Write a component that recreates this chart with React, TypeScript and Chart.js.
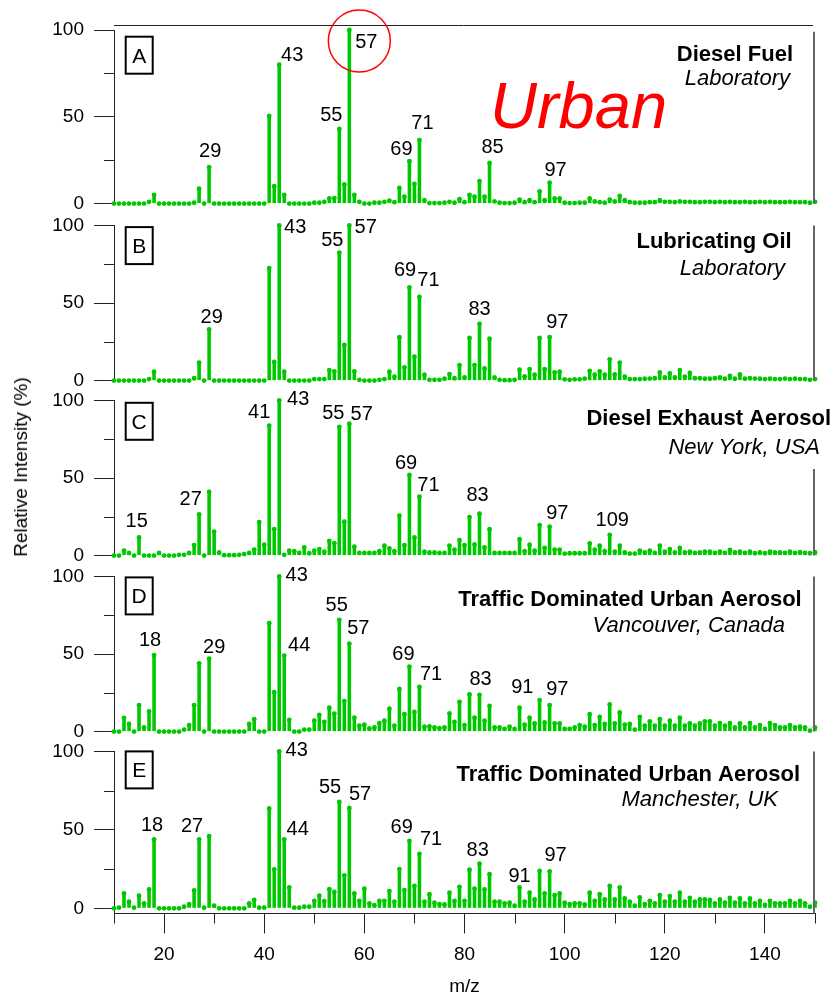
import React, { useEffect, useRef } from 'react';
import { Chart, registerables } from 'chart.js';

Chart.register(...registerables);

const FONT = '"Liberation Sans", Arial, Helvetica, sans-serif';
const GREEN = '#00C800';
const AXIS = '#222222';

// m/z categories (integer masses 10 .. 150)
const MZ: number[] = Array.from({ length: 141 }, (_, i) => 10 + i);
const X_TICKS = [10, 20, 30, 40, 50, 60, 70, 80, 90, 100, 110, 120, 130, 140, 150];
const Y_TICKS = [0, 50, 100];
const Y_MINOR = [25, 75];

// A: Diesel Fuel (Laboratory)
const DIESEL_FUEL = [
  0, 0, 0, 0, 0, 0, 0, 1, 5, 0,
  0, 0, 0, 0, 0, 0, 0.5, 8.6, 0, 21,
  0, 0, 0, 0, 0, 0, 0, 0, 0, 0,
  0, 50.5, 10, 80, 5, 0, 0, 0, 0, 0,
  0.5, 0.5, 1, 3, 3.2, 43, 11, 100, 5, 1,
  0, 0, 0.5, 0.5, 1, 1.7, 0.8, 9, 4, 24.4,
  11.4, 36.6, 2, 0.3, 0.3, 0.3, 0.5, 1, 0.5, 2.5,
  0.8, 5, 4, 13, 4, 23.4, 1.3, 0.5, 0.3, 0.3,
  0.5, 2.3, 0.8, 2, 0.8, 7, 2, 12, 3, 3,
  0.5, 0.3, 0.3, 0.5, 0.5, 3, 1.2, 0.8, 0.5, 2.3,
  1.2, 4.4, 2, 0.8, 0.5, 0.5, 0.5, 0.8, 0.8, 2,
  1, 1, 0.8, 1.2, 1, 1, 0.8, 0.8, 1, 1,
  0.8, 1, 0.8, 1, 0.8, 0.8, 1, 0.8, 0.8, 1,
  0.8, 1, 0.8, 0.8, 0.8, 1, 0.8, 0.8, 0.8, 0.5,
  1,
];

// B: Lubricating Oil (Laboratory)
const LUBRICATING_OIL = [
  0, 0, 0, 0, 0, 0, 0, 1, 5.7, 0,
  0, 0, 0, 0, 0, 0, 1.5, 11.6, 0, 33,
  0, 0, 0, 0, 0, 0, 0, 0, 0, 0,
  0, 72.5, 12, 100, 5.7, 0, 0, 0, 0, 0,
  1, 1, 1, 6.8, 6, 82.5, 23, 100, 6, 0.5,
  0, 0, 0, 0.5, 1, 5.7, 2.5, 28, 8.5, 60,
  15.4, 54, 3.8, 0.5, 0.5, 0.5, 1.2, 4.2, 1.5, 10,
  2, 27.5, 10, 36.6, 7.8, 27, 2, 0.5, 0.3, 0.3,
  0.5, 7, 2.7, 7.4, 3.8, 27.5, 7.4, 28, 5.3, 5.7,
  0.8, 0.5, 0.8, 0.8, 1.3, 6.3, 3.8, 6, 3.8, 13.7,
  4, 11.6, 2.5, 1, 1, 1, 1.2, 1.3, 1.5, 5.3,
  2, 4.6, 2, 6.8, 2.5, 4.9, 1.5, 1.5, 1.2, 1.2,
  1.5, 2, 1.2, 3, 1.2, 4, 1.2, 1.5, 1.3, 1.2,
  1, 1.2, 1, 1, 1.3, 1, 1.2, 1, 1, 0.5,
  1,
];

// C: Diesel Exhaust Aerosol (New York, USA)
const DIESEL_EXHAUST = [
  0, 0, 3.2, 1.7, 0, 11.7, 0, 0, 0, 1.7,
  0, 0, 0, 0.5, 0.5, 1.7, 6.8, 26.5, 0, 41,
  15.5, 2, 0.3, 0.3, 0.3, 0.5, 1, 1.7, 3.8, 21.6,
  7, 83.7, 17, 100, 0.5, 3.2, 2.8, 1.7, 5.3, 1.5,
  3.2, 4.2, 2.5, 9.5, 8, 83, 21.8, 85, 5.7, 1.7,
  1.7, 1.7, 1.7, 2.8, 6.4, 4.7, 2.8, 25.8, 6.8, 52,
  11.7, 38, 2.5, 2, 2, 1.7, 1.7, 6.4, 3.8, 10,
  6.8, 24.8, 7.2, 27, 5.3, 17, 1.7, 1.7, 1.7, 1.7,
  1.7, 10.6, 2.8, 7, 3.2, 19.7, 4.9, 18.6, 3.8, 3.8,
  1.3, 1.5, 1.5, 1.5, 1.5, 7.8, 3.8, 6.4, 2.8, 13.3,
  2.5, 6.4, 2, 1.3, 1.3, 3.2, 2, 3.2, 1.7, 6.4,
  2.5, 4.2, 2, 4.9, 2, 2.5, 1.7, 2, 2.5, 2.5,
  1.7, 2.5, 1.7, 3.6, 2, 2.5, 1.7, 2.5, 1.5, 2,
  1.5, 2.5, 2, 2, 1.7, 2.5, 1.7, 2.2, 1.7, 1.5,
  2.2,
];

// D: Traffic Dominated Urban Aerosol (Vancouver, Canada)
const VANCOUVER = [
  0, 0, 8.9, 4.9, 0, 17, 2.7, 13, 49.3, 0,
  0, 0, 0, 0, 1.3, 4.2, 17, 44, 0, 47,
  0, 0, 0, 0, 0, 0, 0, 4.9, 8, 0,
  0, 69.8, 25.4, 100, 49, 7.6, 0, 0, 1.3, 1.3,
  7, 10.8, 6.3, 15.4, 11.6, 72, 19.7, 56.7, 9, 3.8,
  4.4, 2, 2.7, 5.5, 7, 14.8, 3.8, 27.5, 11.2, 41.9,
  12.7, 28.8, 3.2, 3.4, 2.7, 2.3, 2.7, 11.8, 6.3, 19.2,
  4.2, 24, 9, 23.7, 7, 16.5, 2.7, 2.7, 1.7, 3.2,
  1.7, 15.4, 4.4, 9, 5.3, 20.3, 5.9, 17, 5.3, 5.3,
  1.7, 1.7, 2.7, 4.2, 3.2, 11.2, 4.2, 9.5, 4.9, 17.5,
  5.3, 12.3, 4.4, 4.9, 1.3, 9.5, 3.8, 6.6, 3.8, 8,
  3.8, 7, 3.8, 9, 3.8, 5.3, 3.8, 5.3, 6.6, 6.6,
  3.8, 5.5, 3.8, 5.5, 2.7, 5.3, 2.7, 5.5, 2.7, 4.2,
  1.7, 5.5, 4.2, 2.7, 2.7, 4.2, 2.7, 3.2, 2.7, 0.6,
  2.7,
];

// E: Traffic Dominated Urban Aerosol (Manchester, UK)
const MANCHESTER = [
  0, 0.4, 9.5, 4.2, 0.4, 8, 3.2, 12, 44, 0,
  0, 0, 0, 0, 1, 2.7, 11.4, 44, 0.4, 46,
  1.7, 0, 0, 0, 0, 0, 0, 3.2, 5.3, 0.4,
  0.4, 63.6, 24.8, 100, 44, 13.3, 0.4, 0.4, 1, 1,
  4.8, 8, 4.6, 12.2, 10.5, 67.8, 21, 64, 9.5, 4.8,
  12.6, 3.2, 2, 4.8, 4.8, 11, 4.2, 25, 11.6, 43,
  14.3, 34.7, 4.2, 9, 3.6, 2.7, 2.5, 10, 4.8, 13.7,
  4.8, 24.6, 12.6, 28.4, 12, 21.7, 4.2, 4.2, 3.2, 3.6,
  1.7, 13.3, 4.2, 10, 5.7, 23.8, 9.5, 23.6, 8.4, 9.5,
  3.6, 2.7, 3.2, 3.2, 2.5, 10, 4.8, 9, 5.7, 14.3,
  5.7, 13.3, 6.3, 4.2, 1.7, 7, 2.7, 4.8, 3.2, 8.4,
  4.2, 7.8, 4.2, 10, 4.2, 6.7, 4.2, 5.7, 5.7, 5.3,
  3.2, 5.7, 3.6, 6.7, 3.6, 6.3, 3.2, 6.3, 3.2, 4.8,
  2.2, 4.8, 3.2, 3.2, 3.2, 4.8, 3.2, 4.8, 3.2, 1,
  3.6,
];

// labelled peaks (m/z)
const PEAKS_A = [29, 43, 55, 57, 69, 71, 85, 97];
const PEAKS_B = [29, 43, 55, 57, 69, 71, 83, 97];
const PEAKS_C = [15, 27, 41, 43, 55, 57, 69, 71, 83, 97, 109];
const PEAKS_D = [18, 29, 43, 44, 55, 57, 69, 71, 83, 91, 97];
const PEAKS_E = [18, 27, 43, 44, 55, 57, 69, 71, 83, 91, 97];

// label offsets in px from the bar top (dx of text centre, dy of baseline)
const OFFS_A: [number, number][] = [[1, -10], [13, -4], [-8, -8], [17, 18], [-8, -6], [3, -11], [3, -10], [6, -7]];
const OFFS_B: [number, number][] = [[2.6, -6], [16, 7.7], [-7, -6.6], [16.4, 7.7], [-4.4, -11], [9, -10.5], [0, -8.5], [7.7, -9]];
const OFFS_C: [number, number][] = [[-2.4, -10.6], [-8.4, -9.5], [-10, -7.5], [19, 4.7], [-6, -7.8], [12.4, -4], [-3.4, -6], [9, -6], [-2, -12.5], [7.7, -7.4], [2.6, -9]];
const OFFS_D: [number, number][] = [[-4, -9.3], [5, -6], [17.5, 5], [15, -4.4], [-2.6, -8.5], [9, -10], [-6, -6.6], [11.6, -7.3], [1, -10], [2.7, -14.4], [7.7, -10]];
const OFFS_E: [number, number][] = [[-2, -8], [-7, -7], [17.5, 5], [13.5, -4.3], [-9.3, -8.7], [10.7, -8], [-7.7, -8], [11.6, -9], [-1.8, -7.6], [0, -5.5], [6, -10]];

type PanelCfg = {
  letter: string;
  title: string;
  subtitle: string;
  values: number[];
  peaks: number[];
  offs: [number, number][];
  canvasTop: number;
  canvasHeight: number;
  padTop: number;
  padBottom: number;
  yMin: number;
  isBottom: boolean;
  boxDy: number;
  titleRight: number;
  titleDy: number;
  subRight: number;
  subDy: number;
  rightLineDy: number;
  urban?: boolean;
};

const PANELS: PanelCfg[] = [
  {
    letter: 'A', title: 'Diesel Fuel', subtitle: 'Laboratory', values: DIESEL_FUEL, peaks: PEAKS_A, offs: OFFS_A,
    canvasTop: 0, canvasHeight: 225, padTop: 30, padBottom: 20, yMin: 0, isBottom: false,
    boxDy: 6.7, titleRight: 793, titleDy: 30.7, subRight: 790, subDy: 55, rightLineDy: 1.7, urban: true,
  },
  {
    letter: 'B', title: 'Lubricating Oil', subtitle: 'Laboratory', values: LUBRICATING_OIL, peaks: PEAKS_B, offs: OFFS_B,
    canvasTop: 204, canvasHeight: 198, padTop: 20, padBottom: 20.3, yMin: 0, isBottom: false,
    boxDy: 1.7, titleRight: 791.7, titleDy: 22.7, subRight: 785, subDy: 49.3, rightLineDy: 0,
  },
  {
    letter: 'C', title: 'Diesel Exhaust Aerosol', subtitle: 'New York, USA', values: DIESEL_EXHAUST, peaks: PEAKS_C, offs: OFFS_C,
    canvasTop: 379, canvasHeight: 198, padTop: 20.3, padBottom: 20.3, yMin: 0, isBottom: false,
    boxDy: 2.4, titleRight: 831, titleDy: 24.7, subRight: 820, subDy: 54, rightLineDy: 68.7,
  },
  {
    letter: 'D', title: 'Traffic Dominated Urban Aerosol', subtitle: 'Vancouver, Canada', values: VANCOUVER, peaks: PEAKS_D, offs: OFFS_D,
    canvasTop: 555, canvasHeight: 198, padTop: 20, padBottom: 20.3, yMin: 0, isBottom: false,
    boxDy: 1, titleRight: 801.7, titleDy: 30, subRight: 785, subDy: 55.7, rightLineDy: 0,
  },
  {
    letter: 'E', title: 'Traffic Dominated Urban Aerosol', subtitle: 'Manchester, UK', values: MANCHESTER, peaks: PEAKS_E, offs: OFFS_E,
    canvasTop: 730, canvasHeight: 266, padTop: 20, padBottom: 0, yMin: -3.3, isBottom: true,
    boxDy: 0, titleRight: 800, titleDy: 30, subRight: 778, subDy: 55, rightLineDy: 0,
  },
];

function decorPlugin(p: PanelCfg) {
  return {
    id: 'decor' + p.letter,
    afterDraw(chart: any) {
      const { ctx, chartArea: ca, scales } = chart;
      const xs = scales.x;
      const ys = scales.y;
      ctx.save();
      // minor ticks
      ctx.strokeStyle = AXIS;
      ctx.lineWidth = 1;
      ctx.beginPath();
      for (const v of Y_MINOR) {
        const y = Math.round(ys.getPixelForValue(v)) + 0.5;
        ctx.moveTo(ca.left - 10, y);
        ctx.lineTo(ca.left, y);
      }
      if (p.isBottom) {
        for (const v of X_TICKS) {
          if (v % 20 !== 0) {
            const x = Math.round(xs.getPixelForValue(v)) + 0.5;
            ctx.moveTo(x, ca.bottom);
            ctx.lineTo(x, ca.bottom + 10);
          }
        }
      }
      ctx.stroke();
      // right frame line
      ctx.strokeStyle = '#666666';
      ctx.lineWidth = 2;
      ctx.beginPath();
      ctx.moveTo(ca.right - 1, ca.top + p.rightLineDy);
      ctx.lineTo(ca.right - 1, ca.bottom);
      ctx.stroke();
      // top line (panel A)
      if (p.urban) {
        ctx.strokeStyle = AXIS;
        ctx.lineWidth = 1;
        ctx.beginPath();
        ctx.moveTo(ca.left, ca.top - 4.5);
        ctx.lineTo(ca.right - 2, ca.top - 4.5);
        ctx.stroke();
      }
      // panel letter box
      const bx = ca.left + 11.7;
      const by = ca.top + p.boxDy;
      ctx.strokeStyle = '#000';
      ctx.lineWidth = 2;
      ctx.strokeRect(bx, by, 27, 37);
      ctx.fillStyle = '#000';
      ctx.font = `21px ${FONT}`;
      ctx.textAlign = 'center';
      ctx.textBaseline = 'alphabetic';
      ctx.fillText(p.letter, bx + 13.5, by + 26);
      // titles
      ctx.textAlign = 'right';
      ctx.font = `bold 22px ${FONT}`;
      ctx.fillText(p.title, p.titleRight, ca.top + p.titleDy);
      ctx.font = `italic 22px ${FONT}`;
      ctx.fillText(p.subtitle, p.subRight, ca.top + p.subDy);
      // peak labels
      ctx.textAlign = 'center';
      ctx.font = `20px ${FONT}`;
      p.peaks.forEach((mz, i) => {
        const v = p.values[mz - 10];
        const [dx, dy] = p.offs[i];
        ctx.fillText(String(mz), xs.getPixelForValue(mz) + dx, ys.getPixelForValue(v) + dy);
      });
      // red annotations
      if (p.urban) {
        ctx.fillStyle = '#FF0000';
        ctx.font = `italic 65px ${FONT}`;
        ctx.textAlign = 'left';
        ctx.fillText('Urban', 490, ca.top + 98);
        ctx.strokeStyle = '#FF0000';
        ctx.lineWidth = 1.5;
        ctx.beginPath();
        ctx.arc(xs.getPixelForValue(57) + 10, ys.getPixelForValue(100) + 11, 31, 0, Math.PI * 2);
        ctx.stroke();
      }
      ctx.restore();
    },
  };
}

function makeChart(canvas: HTMLCanvasElement, p: PanelCfg) {
  const pts = p.values.map((v, i) => ({ x: MZ[i], y: v }));
  const tickFont = { family: FONT, size: 19 };
  return new Chart(canvas, {
    type: 'bar',
    data: {
      datasets: [
        {
          type: 'bar',
          data: pts as any,
          backgroundColor: GREEN,
          borderWidth: 0,
          barThickness: 3.6,
          inflateAmount: 0,
          clip: false as any,
          order: 2,
        } as any,
        {
          type: 'line',
          data: pts as any,
          showLine: false,
          pointRadius: 2.4,
          pointHoverRadius: 0,
          pointBackgroundColor: GREEN,
          pointBorderWidth: 0,
          borderWidth: 0,
          clip: false as any,
          order: 1,
        } as any,
      ],
    },
    options: {
      animation: false,
      responsive: false,
      devicePixelRatio: 1,
      events: [],
      layout: { padding: { top: p.padTop, bottom: p.padBottom, left: 0, right: 21 } },
      plugins: { legend: { display: false }, tooltip: { enabled: false }, title: { display: false } },
      scales: {
        x: {
          type: 'linear',
          min: 10,
          max: 150,
          offset: false,
          display: p.isBottom,
          afterBuildTicks: (s: any) => { s.ticks = X_TICKS.map((v) => ({ value: v })); },
          afterFit: (s: any) => { if (p.isBottom) s.height = 82.5; },
          ticks: {
            autoSkip: false,
            maxRotation: 0,
            minRotation: 0,
            font: tickFont,
            color: '#000',
            padding: 10,
            callback: (v: any) => (Number(v) % 20 === 0 ? String(v) : ''),
          },
          grid: {
            display: true,
            drawOnChartArea: false,
            drawTicks: true,
            tickLength: 20,
            offset: false,
            tickColor: (c: any) => (c.tick && c.tick.value % 20 === 0 ? AXIS : 'rgba(0,0,0,0)'),
          },
          border: { display: true, color: AXIS, width: 1 },
          title: { display: p.isBottom, text: 'm/z', font: tickFont, color: '#000', padding: { top: 0, bottom: -2 } },
        } as any,
        y: {
          type: 'linear',
          min: p.yMin,
          max: 100,
          afterFit: (s: any) => { s.width = 114; },
          afterBuildTicks: (s: any) => { s.ticks = Y_TICKS.map((v) => ({ value: v })); },
          ticks: { font: tickFont, color: '#000', padding: 10, autoSkip: false },
          grid: { display: true, drawOnChartArea: false, drawTicks: true, tickLength: 20, tickColor: AXIS },
          border: { display: true, color: AXIS, width: 1 },
        } as any,
      },
    },
    plugins: [decorPlugin(p)],
  } as any);
}

export default function App() {
  const refs = useRef<(HTMLCanvasElement | null)[]>([]);
  useEffect(() => {
    const charts = PANELS.map((p, i) => makeChart(refs.current[i] as HTMLCanvasElement, p));
    return () => charts.forEach((c) => c.destroy());
  }, []);
  return (
    <div style={{ position: 'absolute', left: 0, top: 0, width: 836, height: 996, background: '#fff', fontFamily: FONT }}>
      {PANELS.map((p, i) => (
        <canvas
          key={p.letter}
          ref={(el) => { refs.current[i] = el; }}
          width={836}
          height={p.canvasHeight}
          style={{ position: 'absolute', left: 0, top: p.canvasTop, width: 836, height: p.canvasHeight, display: 'block' }}
        />
      ))}
      <div style={{ position: 'absolute', left: 21, top: 467, width: 0, height: 0 }}>
        <div
          style={{
            position: 'absolute', left: 0, top: 0, transform: 'translate(-50%, -50%) rotate(-90deg)',
            whiteSpace: 'nowrap', fontSize: 19, lineHeight: '22px', color: '#000',
          }}
        >
          Relative Intensity (%)
        </div>
      </div>
    </div>
  );
}
